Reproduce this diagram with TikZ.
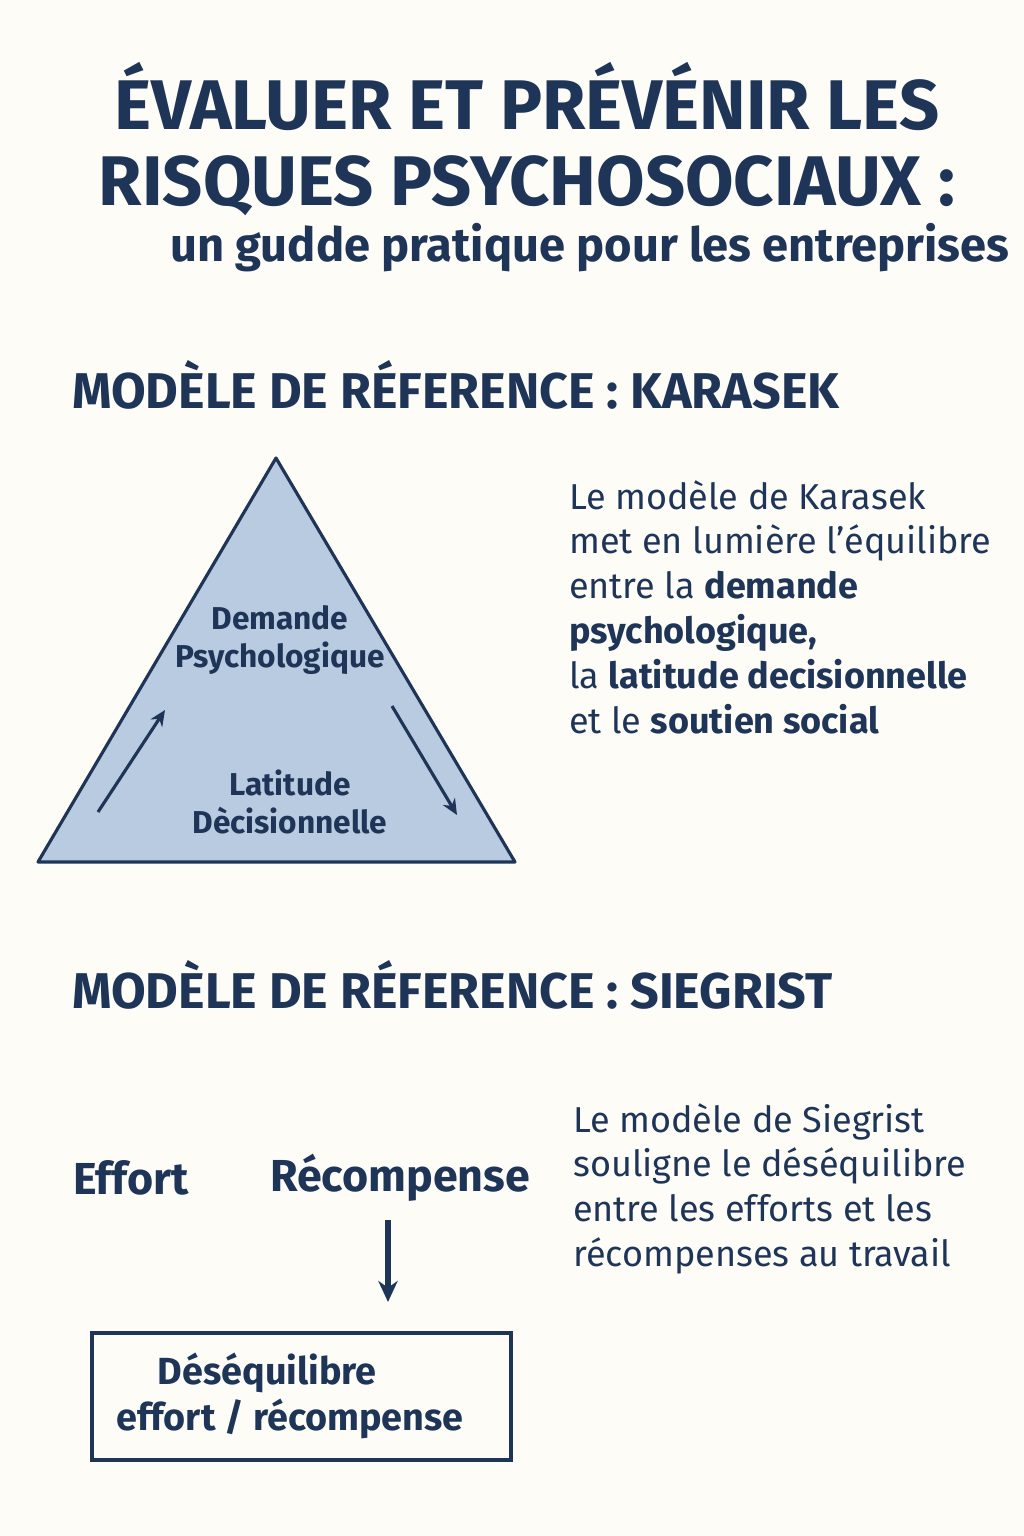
\documentclass[tikz,border=0pt]{standalone}
\usepackage{fontspec}
\setmainfont{Fira Sans}
\usetikzlibrary{arrows.meta}
\definecolor{navy}{HTML}{1F3558}
\definecolor{paper}{HTML}{FDFCF7}
\definecolor{trifill}{HTML}{B9CBE0}
\tikzset{
  px/.style={x=0.02cm, y=-0.02cm},
  heading/.style={anchor=west, text=navy, font=\fontsize{28.6}{34}\selectfont\bfseries},
  bodytext/.style={anchor=north west, text=navy, align=left, font=\fontsize{20.5}{25.5}\selectfont},
  tritext/.style={text=navy, align=center, font=\fontsize{18}{22}\selectfont\bfseries},
  arrowline/.style={draw=navy, line width=1.8pt, -{Stealth[length=9pt,width=8pt]}}
}
\begin{document}
\begin{tikzpicture}[px]
  \fill[paper] (0,0) rectangle (1024,1536);
  \useasboundingbox (0,0) rectangle (1024,1536);

  % title
  \node[text=navy, align=center, font=\fontsize{40}{43}\selectfont\bfseries](title) at (527,139){ÉVALUER ET PRÉVÉNIR LES\\RISQUES PSYCHOSOCIAUX :};
  \node[anchor=west, text=navy, font=\fontsize{26.8}{30}\selectfont\bfseries](subtitle) at (164,248){un gudde pratique pour les entreprises};

  % Karasek
  \node[heading](karasekTitle) at (66,385){MODÈLE DE RÉFERENCE : KARASEK};
  \draw[navy, fill=trifill, line width=1.8pt, line join=round] (276,458) -- (515,862) -- (38,862) -- cycle;
  \node[tritext](demande) at (280,640){Demande\\Psychologique};
  \node[tritext](latitude) at (290,802){Latitude\\Dècisionnelle};
  \coordinate (upStart) at (98,812);
  \coordinate (upEnd) at (165,710);
  \coordinate (downStart) at (392,706);
  \coordinate (downEnd) at (457,815);
  \draw[arrowline, line width=1.8pt] (upStart) -- (upEnd);
  \draw[arrowline, line width=1.8pt] (downStart) -- (downEnd);
  \node[bodytext](karasekText) at (563,474){Le modèle de Karasek\\met en lumière l'équilibre\\entre la \textbf{demande}\\\textbf{psychologique,}\\la \textbf{latitude decisionnelle}\\et le \textbf{soutien social}};

  % Siegrist
  \node[heading](siegristTitle) at (66,985){MODÈLE DE RÉFERENCE : SIEGRIST};
  \node[text=navy, font=\fontsize{25.5}{30}\selectfont\bfseries](effort) at (131,1178){Effort};
  \node[text=navy, font=\fontsize{25.5}{30}\selectfont\bfseries](recompense) at (400,1178){Récompense};
  \node[draw=navy, line width=1.8pt, minimum width=419*0.02cm, minimum height=127*0.02cm, text=navy, align=center, font=\fontsize{21.5}{26}\selectfont\bfseries](desequilibre) at (301.5,1396.5){};
  \node[text=navy, align=center, font=\fontsize{21.5}{26}\selectfont\bfseries](desequilibreText) at (290,1396){\hspace*{-1.2em}Déséquilibre\\effort / récompense};
  \coordinate (downTarget) at (388,1302);
  \draw[draw=navy, line width=3pt, -{Stealth[length=12pt,width=11pt]}] (388,1220) -- (downTarget);
  \node[bodytext](siegristText) at (567,1097){Le modèle de Siegrist\\souligne le déséquilibre\\entre les efforts et les\\récompenses au travail};
\end{tikzpicture}
\end{document}
